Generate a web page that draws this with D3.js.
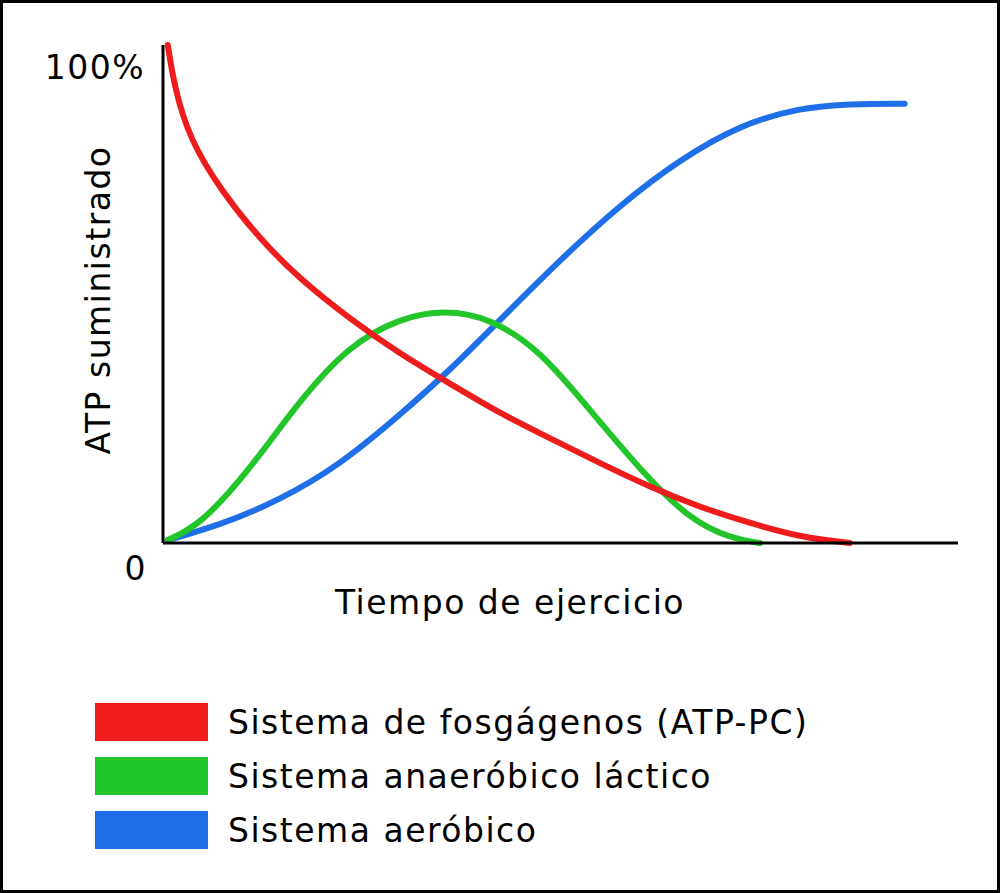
<!DOCTYPE html><html><head><meta charset="utf-8">
<script src="https://cdn.jsdelivr.net/npm/d3@7"></script>
<style>body{margin:0;background:#fff}</style></head><body>
<svg id="c" width="1000" height="893"></svg>
<script>
const seriesNames=["Sistema de fosgágenos (ATP-PC)","Sistema anaeróbico láctico","Sistema aeróbico"];
const colors=["#ee1c1c","#22c52a","#1f6fe8"];
const redX=[0.6,1.5,3.4,7.2,12.2,17.2,23.5,29.8,36.1,42.4,48.7,55,61.3,67.5,73.8,80.1,86.4];
const redY=[100,91,81,71,61,53,45,38,32,26,21,16,11.2,7.2,4,1.2,0];
const greenX=[0.6,4.7,10.9,17.2,23.5,29.8,35.5,41.1,47.4,53.7,60,66.3,71.3,75.1];
const greenY=[0.6,3.6,14.7,28.7,39.8,45.2,46.8,45.2,38.8,26.7,14.7,4.6,1,0];
const blueX=[0.6,7.2,14.7,22.3,29.8,36.1,42.4,49.9,57.5,65,72.6,80.1,86.4,93.3];
const blueY=[0.6,3.6,8.6,15.7,25.7,34.7,44.8,56.8,67.9,77,84,87.4,88.2,88.2];
const yTickLabels=["0","100%"];
const xTitle="Tiempo de ejercicio", yTitle="ATP suministrado";

const svg=d3.select("#c");
svg.append("rect").attr("x",1.5).attr("y",1.5).attr("width",997).attr("height",890).attr("fill","none").attr("stroke","#000").attr("stroke-width",3);
const x=d3.scaleLinear().domain([0,100]).range([163,958]);
const y=d3.scaleLinear().domain([0,100]).range([543,45]);
const font="DejaVu Sans";
const data=[[redX,redY],[greenX,greenY],[blueX,blueY]];
const line=d3.line().x(d=>x(d[0])).y(d=>y(d[1])).curve(d3.curveBasis);
[2,1,0].forEach(i=>{
  const xs=data[i][0], ys=data[i][1];
  const pts=xs.map((v,k)=>[v,ys[k]]);
  // repeat endpoints so basis passes through ends
  pts.unshift(pts[0]); pts.push(pts[pts.length-1]);
  svg.append("path").attr("d",line(pts)).attr("fill","none").attr("stroke",colors[i]).attr("stroke-width",6).attr("stroke-linecap","round");
});
svg.append("line").attr("x1",x(0)).attr("x2",x(0)).attr("y1",y(100)).attr("y2",y(0)).attr("stroke","#000").attr("stroke-width",3);
svg.append("line").attr("x1",x(0)).attr("x2",x(100)).attr("y1",y(0)).attr("y2",y(0)).attr("stroke","#000").attr("stroke-width",3);
const T=(s)=>s.attr("font-family",font).attr("font-size",33).attr("letter-spacing",1.5);
T(svg.append("text").attr("x",x(0)-18).attr("y",y(100)+34).attr("text-anchor","end")).text(yTickLabels[1]);
T(svg.append("text").attr("x",x(0)-16).attr("y",y(0)+37).attr("text-anchor","end")).text(yTickLabels[0]);
T(svg.append("text").attr("transform","translate(110,300) rotate(-90)").attr("text-anchor","middle")).text(yTitle);
T(svg.append("text").attr("x",510).attr("y",614).attr("text-anchor","middle")).text(xTitle);
seriesNames.forEach((n,i)=>{
  const cy=722+i*54;
  svg.append("rect").attr("x",95).attr("y",cy-19).attr("width",113).attr("height",38).attr("fill",colors[i]);
  T(svg.append("text").attr("x",228).attr("y",cy+12)).text(n);
});
</script></body></html>
